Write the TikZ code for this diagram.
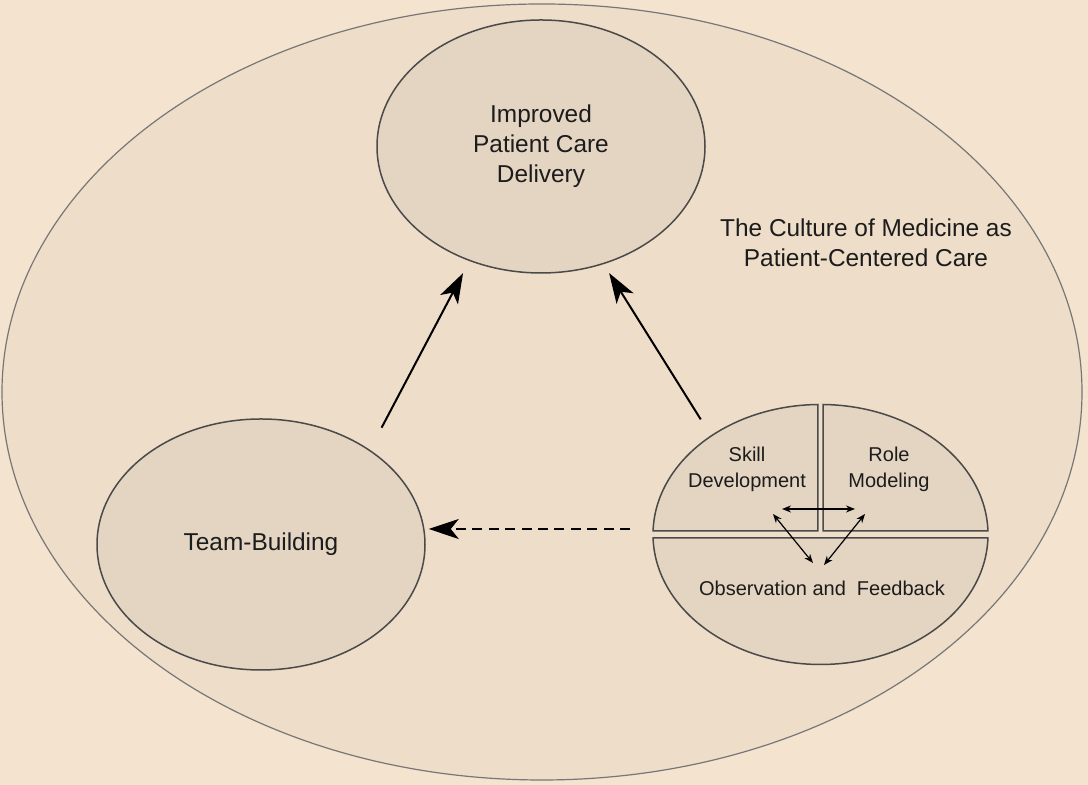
\documentclass[tikz,border=0pt]{standalone}
\usepackage{fontspec}
\setmainfont{Liberation Sans}
\usetikzlibrary{arrows.meta,shapes.geometric}

\definecolor{paper}{HTML}{F3E3CF}
\definecolor{culture}{HTML}{EEDDC8}
\definecolor{bubble}{HTML}{E4D4C2}
\definecolor{rim}{HTML}{4A4A4A}
\definecolor{ink}{HTML}{1C1C1C}

\begin{document}
\begin{tikzpicture}[x=0.5pt,y=0.5pt,text=ink,
                    main node/.style={ellipse,draw=rim,fill=bubble,line width=0.75pt,inner sep=0pt,
                                      align=center,font=\fontsize{12.2}{15}\selectfont},
                    piece/.style={draw=rim,fill=bubble,line width=0.75pt},
                    small text/.style={align=center,font=\fontsize{10}{13}\selectfont},
                    big arrow/.style={-{Stealth[length=15pt,width=10pt,inset=4pt]},line width=1pt},
                    tiny arrow/.style={{Stealth[length=4.5pt,width=3.5pt]}-{Stealth[length=4.5pt,width=3.5pt]},line width=0.6pt}]

  \useasboundingbox[fill=paper] (0,0) rectangle (1088,785);

  %Culture%
  \node[ellipse,draw=rim!75,fill=culture,line width=0.6pt,minimum width=540pt,minimum height=388pt] (cm) at (542,393) {};
  \node[align=center,font=\fontsize{12.2}{15}\selectfont] (title) at (866,542) {The Culture of Medicine as\\Patient-Centered Care};

  %Outcomes%
  \node[main node,minimum width=164pt,minimum height=126.5pt] (pcd) at (541,638.5) {Improved\\Patient Care\\Delivery};
  \node[main node,minimum width=164pt,minimum height=125.5pt] (tb) at (261,240.5) {Team-Building};

  %Teaching%
  \coordinate (C) at (820.5,250.5);
  \node[ellipse,minimum width=167.5pt,minimum height=130pt,inner sep=0pt,outer sep=0pt] (mss) at (C) {};
  \filldraw[piece] (C) ++(90.86:83.75pt and 65pt) coordinate (ul)
    arc[start angle=90.86,end angle=178.46,x radius=83.75pt,y radius=65pt] -| (ul) -- cycle;
  \filldraw[piece] (C) ++(89.14:83.75pt and 65pt) coordinate (ur)
    arc[start angle=89.14,end angle=1.54,x radius=83.75pt,y radius=65pt] -| (ur) -- cycle;
  \filldraw[piece] (C) ++(181.54:83.75pt and 65pt)
    arc[start angle=181.54,end angle=358.46,x radius=83.75pt,y radius=65pt] -- cycle;

  \node[small text] (sd) at (747,316) {Skill\\Development};
  \node[small text] (rm) at (889,316) {Role\\Modeling};
  \node[small text] (of) at (822,197) {Observation and~ Feedback};

  \coordinate (sd1) at (782,276);
  \coordinate (rm1) at (855,276);
  \coordinate (sd2) at (773,271);
  \coordinate (of1) at (813,222);
  \coordinate (rm2) at (865,271);
  \coordinate (of2) at (824,220);
  \coordinate (ds) at ([yshift=2.75pt]mss.west);

  \path[tiny arrow]
    (sd1) edge (rm1)
    (sd2) edge (of1)
    (rm2) edge (of2);

  \path[big arrow]
    (tb.41) edge[shorten <=12.5pt,shorten >=6.8pt] (pcd.238.75)
    (mss.138.4) edge[shorten <=9.8pt,shorten >=5.25pt] (pcd.298.6)
    (ds) edge[dash pattern=on 5pt off 3.2pt,shorten <=11.5pt,shorten >=1.5pt] (tb.east |- ds);
\end{tikzpicture}
\end{document}
